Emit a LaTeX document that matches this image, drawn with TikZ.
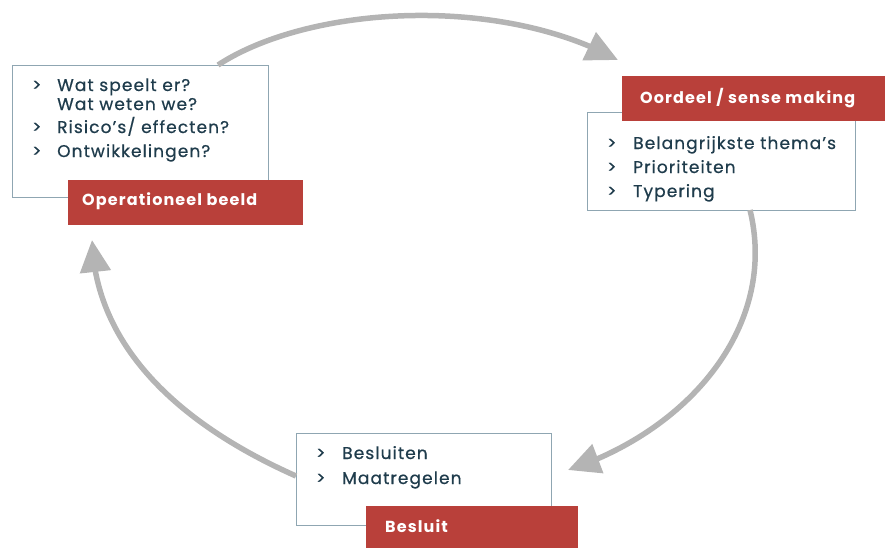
\documentclass[tikz,border=0pt]{standalone}
\usepackage{fontspec}
\setmainfont{Poppins}
\newfontfamily\itemfont[LetterSpace=6.5,FakeBold=0.6]{Poppins}
\newfontfamily\labfont[LetterSpace=7]{Poppins}
\usetikzlibrary{arrows.meta,bending}
\definecolor{redlab}{HTML}{B9403A}
\definecolor{txt}{HTML}{1F3C4C}
\definecolor{frame}{HTML}{8FA6B2}
\definecolor{arc}{HTML}{B4B4B4}
\tikzset{
  wbox/.style={draw=frame, line width=0.9pt, fill=white, anchor=north west, inner sep=0pt},
  rbox/.style={fill=redlab, anchor=north west, inner sep=0pt},
  item/.style={anchor=base west, inner sep=0pt, text=txt, font=\itemfont\fontsize{17}{20}\selectfont},
  lab/.style={anchor=base west, inner sep=0pt, text=white, font=\labfont\fontsize{16}{19}\selectfont\bfseries},
  cyc/.style={draw=arc, line width=5.5pt, -{Triangle[length=32pt, width=30pt, flex]}}
}
\begin{document}
\begin{tikzpicture}[x=1pt, y=-1pt]
\useasboundingbox (0,0) rectangle (885,547);
% boxes
\node[wbox, minimum width=256pt, minimum height=132pt] (b1) at (12,65) {};
\node[wbox, minimum width=268pt, minimum height=98pt] (b2) at (587,112) {};
\node[wbox, minimum width=255pt, minimum height=92pt] (b3) at (296,433) {};
\node[rbox, minimum width=235pt, minimum height=45pt] (r1) at (68,180) {};
\node[rbox, minimum width=263pt, minimum height=45pt] (r2) at (622,76) {};
\node[rbox, minimum width=212pt, minimum height=42pt] (r3) at (366,506) {};
% box 1 text
\node[item] (g1a) at (32,91) {>};
\node[item] (t1a) at (57,91) {Wat speelt er?};
\node[item] (t1b) at (57,110) {Wat weten we?};
\node[item] (g1c) at (32,133) {>};
\node[item] (t1c) at (57,133) {Risico’s/ effecten?};
\node[item] (g1d) at (32,157) {>};
\node[item] (t1d) at (57,157) {Ontwikkelingen?};
\node[lab] (l1) at (82,205) {Operationeel beeld};
% box 2 text
\node[item] (g2a) at (607,149) {>};
\node[item] (t2a) at (633,149) {Belangrijkste thema’s};
\node[item] (g2b) at (607,173) {>};
\node[item] (t2b) at (633,173) {Prioriteiten};
\node[item] (g2c) at (607,197) {>};
\node[item] (t2c) at (633,197) {Typering};
\node[lab] (l2) at (640,103) {Oordeel / sense making};
% box 3 text
\node[item] (g3a) at (316,459) {>};
\node[item] (t3a) at (342,459) {Besluiten};
\node[item] (g3b) at (316,484) {>};
\node[item] (t3b) at (342,484) {Maatregelen};
\node[lab] (l3) at (385,532) {Besluit};
% connector ends
\coordinate (s1) at (218,65);
\coordinate (e1) at (618,60);
\coordinate (s2) at (750,210);
\coordinate (e2) at (568,470);
\coordinate (s3) at (296,476);
\coordinate (e3) at (92,240);
\draw[cyc] (s1) .. controls (310,5) and (500,-5) .. (e1);
\draw[cyc] (s2) .. controls (778,325) and (690,430) .. (e2);
\draw[cyc] (s3) .. controls (170,420) and (95,340) .. (e3);
\end{tikzpicture}
\end{document}
